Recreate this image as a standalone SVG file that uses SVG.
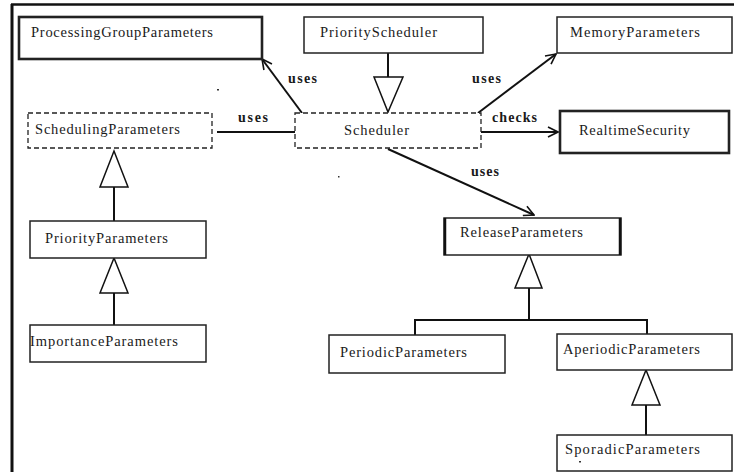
<svg xmlns="http://www.w3.org/2000/svg" width="734" height="472" viewBox="0 0 734 472">
<defs>
<marker id="open" viewBox="0 0 12 12" refX="11" refY="6" markerWidth="12" markerHeight="12" markerUnits="userSpaceOnUse" orient="auto">
<path d="M1,1 L11,6 L1,11" fill="none" stroke="#111" stroke-width="1.6"/>
</marker>
</defs>
<style>
.box{fill:#fff;stroke:#222;stroke-width:1.5}
.thick{stroke-width:2.6}
.dash{fill:#fff;stroke:#222;stroke-width:1.3;stroke-dasharray:5,3}
.t{font-family:"Liberation Serif",serif;font-size:14.5px;fill:#1a1a1a}
.lbl{font-family:"Liberation Serif",serif;font-size:14px;fill:#1a1a1a;font-weight:bold}
.c{fill:none;stroke:#111;stroke-width:2}
.tri{fill:#fff;stroke:#111;stroke-width:1.5}
</style>
<rect width="734" height="472" fill="#fff"/>
<g id="frame">
<line x1="11" y1="4.5" x2="734" y2="4.5" stroke="#111" stroke-width="2.5"/>
<line x1="12" y1="4" x2="12" y2="472" stroke="#111" stroke-width="3"/>
</g>

<g id="connectors">
<line class="c" x1="302" y1="113" x2="262" y2="59" marker-end="url(#open)"/>
<text class="lbl" x="288" y="83" textLength="29">uses</text>
<line class="c" x1="478" y1="113" x2="556" y2="54" marker-end="url(#open)"/>
<text class="lbl" x="472" y="83" textLength="29">uses</text>
<line class="c" x1="477" y1="132" x2="558" y2="132" marker-end="url(#open)"/>
<text class="lbl" x="492" y="122" textLength="45">checks</text>
<line class="c" x1="217" y1="132" x2="297" y2="132" stroke-width="2.5"/>
<line class="c" x1="297" y1="126" x2="297" y2="138" stroke-width="1.2"/>
<text class="lbl" x="238" y="122" textLength="30">uses</text>
<line class="c" x1="388" y1="149" x2="534" y2="215" stroke-width="1.5" marker-end="url(#open)"/>
<text class="lbl" x="471" y="176" textLength="28">uses</text>
<line class="c" x1="388" y1="53" x2="388" y2="77"/>
<polygon class="tri" points="374,77 403,77 388,112"/>
<line class="c" x1="114" y1="187" x2="114" y2="221"/>
<polygon class="tri" points="100,187 128,187 114,151"/>
<line class="c" x1="114" y1="293" x2="114" y2="325"/>
<polygon class="tri" points="100,293 128,293 114,258"/>
<line class="c" x1="529" y1="288" x2="529" y2="320" stroke-width="1.2"/>
<polygon class="tri" points="515,288 542,288 529,254"/>
<polyline class="c" points="415,335 415,320 647,320 647,334" stroke-width="2.2"/>
<line class="c" x1="646" y1="405" x2="646" y2="435" stroke-width="2.2"/>
<polygon class="tri" points="632,405 660,405 646,370"/>
</g>

<g id="ProcessingGroupParameters">
<rect class="box thick" x="19" y="17" width="243" height="42"/>
<text class="t" x="31" y="37" textLength="182">ProcessingGroupParameters</text>
</g>
<g id="PriorityScheduler">
<rect class="box" x="304" y="17" width="179" height="36"/>
<text class="t" x="320" y="37" textLength="117">PriorityScheduler</text>
</g>
<g id="MemoryParameters">
<rect class="box" x="557" y="17" width="175" height="36"/>
<text class="t" x="570" y="37" textLength="130">MemoryParameters</text>
</g>
<g id="SchedulingParameters">
<rect class="dash" x="28" y="113" width="184" height="35"/>
<text class="t" x="35" y="134" textLength="145">SchedulingParameters</text>
</g>
<g id="Scheduler">
<rect class="dash" x="295" y="113" width="186" height="35"/>
<text class="t" x="344" y="135" textLength="65">Scheduler</text>
</g>
<g id="RealtimeSecurity">
<rect class="box thick" x="560" y="111" width="169" height="42"/>
<text class="t" x="579" y="135" textLength="111">RealtimeSecurity</text>
</g>
<g id="PriorityParameters">
<rect class="box" x="30" y="221" width="176" height="37"/>
<text class="t" x="45" y="243" textLength="123">PriorityParameters</text>
</g>
<g id="ImportanceParameters">
<rect class="box" x="30" y="325" width="176" height="37"/>
<text class="t" x="30" y="346" textLength="148">ImportanceParameters</text>
</g>
<g id="ReleaseParameters">
<rect class="box" x="444" y="218" width="177" height="37" stroke-width="1.6"/>
<line x1="445" y1="218" x2="445" y2="255" stroke="#111" stroke-width="2.5"/>
<line x1="620" y1="218" x2="620" y2="255" stroke="#111" stroke-width="2.5"/>
<text class="t" x="460" y="237" textLength="123">ReleaseParameters</text>
</g>
<g id="PeriodicParameters">
<rect class="box" x="329" y="335" width="176" height="38" stroke-width="2.4"/>
<text class="t" x="340" y="357" textLength="127">PeriodicParameters</text>
</g>
<g id="AperiodicParameters">
<rect class="box" x="557" y="334" width="175" height="36"/>
<text class="t" x="563" y="354" textLength="137">AperiodicParameters</text>
</g>
<g id="SporadicParameters">
<rect class="box" x="557" y="435" width="175" height="36" stroke-width="2"/>
<text class="t" x="565" y="454" textLength="135">SporadicParameters</text>
</g>
<g id="marks" fill="#333">
<rect x="217" y="89" width="2" height="1.5"/>
<rect x="338" y="176" width="1.5" height="1.5"/>
<rect x="579" y="461" width="2" height="1.5"/>
</g>
</svg>
